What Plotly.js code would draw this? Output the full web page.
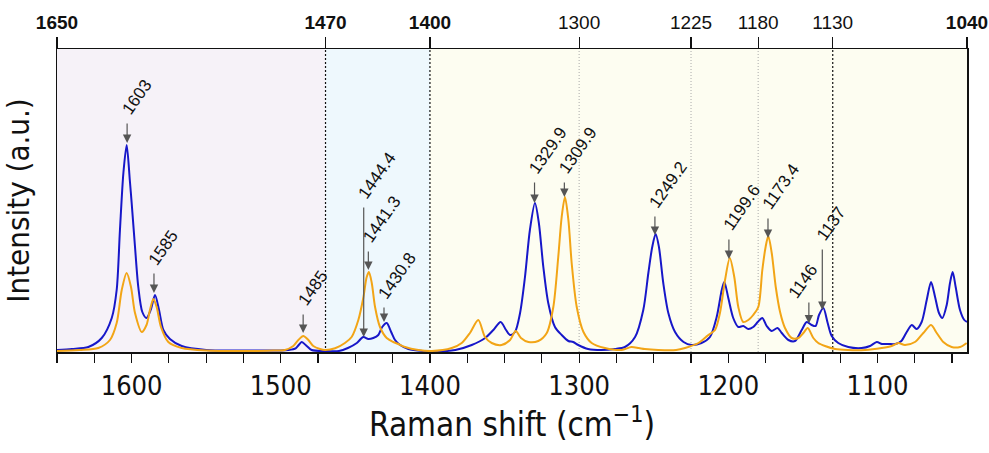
<!DOCTYPE html>
<html>
<head>
<meta charset="utf-8">
<script src="https://cdn.plot.ly/plotly-3.0.1.min.js"></script>
<style>html,body{margin:0;padding:0;background:#fff;}#chart{width:989px;height:453px;}</style>
</head>
<body>
<div id="chart"></div>
<script>
// ---- data (wavenumber cm^-1, intensity a.u.) ----
const blueX = [1650,1640,1629,1620,1613.3,1610,1607.8,1605.5,1603.3,1601.2,1600,1597.7,1595.5,1592.8,1590,1587.2,1584.3,1581.6,1578.7,1574.3,1566.4,1550,1524,1500,1495,1490,1488,1486,1482.6,1479.3,1470,1461,1455,1449,1444.7,1441.3,1438,1434.6,1432,1429,1426,1423.4,1420,1414.5,1405,1396,1383,1372,1363,1357.5,1352.6,1349,1346.3,1343,1339.6,1336.3,1333,1329.6,1327,1324,1320.7,1316.2,1311.7,1307.2,1304,1300.6,1294,1285,1276,1269.3,1262.5,1257,1253.6,1251,1248.7,1246.5,1243.6,1240.2,1235.7,1230,1224.6,1218,1212.3,1207.8,1204.4,1202.7,1200,1196.7,1193.3,1190,1186.6,1183.3,1180.3,1177.2,1174.3,1171,1167,1164.2,1159.7,1155.3,1150.8,1147.4,1144.1,1141.5,1139.2,1136.3,1133.4,1130.7,1126.3,1119.6,1110.6,1105,1100.5,1097,1092.7,1088,1084,1080.4,1077,1073.8,1070.4,1067,1064.1,1061.4,1058.8,1056.5,1053.6,1051.4,1049.6,1047.6,1044.7,1041.8,1040];
const blueY = [2,3,5,14,34,62,122,179,207,172,150,105,65,40,34,42,57,42,22,13,6,2,1.5,1.5,2,3.7,7,10,6,2,1,1,4,9,15,13,14,17,25,29,20,12,7,3,1,0.5,2,7,14,22,30,22,17,20,39,75,122,149,129,85,49,25,17,11,10,7,3,2,3,5,15,42,79,105,118,105,69,39,20,10,7,9,15,35,62,70,54,34,25,26,23,25,30,34,26,21,24,19,12,11,22,30,27,26,37,44,29,16,9,5,4,6,10,8,8,8,11,20,27,23,30,52,70,55,39,34,47,69,80,65,42,32,30];

const orangeX = [1650,1635,1622.3,1614.5,1610,1606.6,1603.3,1600.4,1597.7,1593.2,1590,1587.7,1585.4,1583.2,1580.3,1575.4,1566.4,1550,1520,1505,1497.2,1491.6,1488.2,1484.9,1481.5,1478.2,1473.7,1470.4,1463.6,1457,1452.5,1448,1444.7,1442.4,1440.9,1439,1436.8,1433.5,1429,1424.6,1421.2,1416.7,1407.8,1398.8,1385.4,1378.7,1373.2,1367.6,1363.1,1358.6,1352,1346.3,1342.5,1339,1334,1327.4,1321.7,1317.3,1314,1311.7,1309.5,1307.2,1305,1301.6,1297.1,1291.6,1282.7,1271.5,1265,1260,1256,1247,1235,1229,1220,1215,1213.4,1208.9,1205.6,1202.2,1199,1196,1193.3,1190,1186.6,1183.3,1179.9,1177.2,1175,1173.2,1170.9,1168.2,1165.3,1162,1157.5,1153,1149.7,1146.8,1143,1139.7,1135.2,1128.4,1120,1108.4,1097.2,1090.5,1086,1081.6,1074.9,1069.3,1064.1,1060.3,1055.9,1050.3,1044.7,1040.2];
const orangeY = [1,2,4,12,29,62,79,65,39,20,27,42,53,45,25,10,4,1.5,1,1.5,2,6,12,16,12,6,3,2,3.7,9,15,32,54,75,80,69,45,25,14,10,8,5,2,1,4,9,19,32,15,9,7,12,21,14,10,11,19,45,95,135,155,132,89,45,20,9,4,2,5,4,3,2,2,4,9,15,17,22,39,72,94,75,45,30,32,37,45,82,105,116,99,65,40,24,14,14,19,24,14,9,6,3,2,2,4,6,9,7,10,19,27,19,10,5,5,9];

// peak labels: wavenumber, arrow tip and arrow tail intensity
const peakLabels = ["1603","1585","1485","1444.4","1441.3","1430.8","1329.9","1309.9","1249.2","1199.6","1173.4","1146","1137"];
const peakX    = [1603,1585,1485,1444.4,1441.3,1430.8,1329.9,1309.9,1249.2,1199.6,1173.4,1146,1137];
const peakTip  = [209,59,19,15,82,30,149,155,117,93,114,28.5,42];
const peakTail = [230,80,39,146,102,46,171,171,137,114,135,51,104];

// axes ticks
const bottomTickVals = [1650,1625,1600,1575,1550,1525,1500,1475,1450,1425,1400,1375,1350,1325,1300,1275,1250,1225,1200,1175,1150,1125,1100,1075,1050];
const bottomTickText = bottomTickVals.map(v => (v % 100 === 0 ? String(v) : ""));
const topTickVals = [1650,1470,1400,1300,1225,1180,1130,1040];
const topTickBold = [true,true,true,false,false,false,false,true];
const topTickText = topTickVals.map((v,i) => topTickBold[i] ? "<b>"+v+"</b>" : String(v));

// region boundaries and separator lines
const regionEdges = [1650,1470,1400,1040];
const regionColors = ["#f6f2f8","#eef8fd","#fdfdf1"];
const dashedLines = [1470,1400,1130];
const dottedLines = [1300,1225,1180];

const FONT = "'Liberation Sans Narrow', 'DejaVu Sans Condensed', 'Liberation Sans', Arial, sans-serif";
const FONT2 = "'Liberation Sans', Arial, sans-serif";

const traces = [
  {x: blueX, y: blueY, mode: 'lines', line: {color: '#1717c9', width: 2, shape: 'spline', smoothing: 0.8}, showlegend: false, hoverinfo: 'skip'},
  {x: orangeX, y: orangeY, mode: 'lines', line: {color: '#f2a516', width: 2, shape: 'spline', smoothing: 0.8}, showlegend: false, hoverinfo: 'skip'},
  {x: [regionEdges[0], regionEdges[3]], y: [null, null], xaxis: 'x2', mode: 'lines', showlegend: false, hoverinfo: 'skip'}
];

const shapes = [];
for (let i = 0; i < regionColors.length; i++) {
  shapes.push({type: 'rect', xref: 'x', yref: 'paper', x0: regionEdges[i], x1: regionEdges[i+1], y0: 0, y1: 1,
    fillcolor: regionColors[i], line: {width: 0}, layer: 'below'});
}
dashedLines.forEach(v => shapes.push({type: 'line', xref: 'x', yref: 'paper', x0: v, x1: v, y0: 0, y1: 1,
  line: {color: '#111', width: 1.2, dash: '2px,2px'}, layer: 'below'}));
dottedLines.forEach(v => shapes.push({type: 'line', xref: 'x', yref: 'paper', x0: v, x1: v, y0: 0, y1: 1,
  line: {color: '#aaa', width: 1, dash: '1px,2px'}, layer: 'below'}));

const annotations = [];
peakX.forEach((px, i) => {
  const special = (peakLabels[i] === "1146");  // this label sits left of its arrow in the reference
  annotations.push({x: px, y: peakTip[i], ax: px, ay: peakTail[i], xref: 'x', yref: 'y', axref: 'x', ayref: 'y',
    text: '', showarrow: true, arrowhead: 2, arrowsize: 1.4, arrowwidth: 1.2, arrowcolor: '#555'});
  annotations.push({x: px, y: peakTail[i], xref: 'x', yref: 'y', text: peakLabels[i], showarrow: false,
    textangle: -55, xanchor: 'left', yanchor: 'bottom', xshift: special ? -27 : -12, yshift: special ? -4 : 1,
    font: {family: FONT2, size: 17, color: '#111'}});
});

const layout = {
  width: 989, height: 453,
  margin: {l: 57, r: 22, t: 49, b: 101},
  paper_bgcolor: '#ffffff', plot_bgcolor: '#ffffff',
  font: {family: FONT2, color: '#111'},
  xaxis: {range: [1650, 1040], tickmode: 'array', tickvals: bottomTickVals, ticktext: bottomTickText,
    ticks: 'outside', ticklen: 9, tickwidth: 1.2, tickcolor: '#111', showline: true, linecolor: '#111', linewidth: 1.5,
    showgrid: false, zeroline: false, tickfont: {family: FONT, size: 27, color: '#111'},
    title: {text: 'Raman shift (cm<sup>−1</sup>)', font: {family: FONT, size: 33, color: '#111'}, standoff: 6}},
  xaxis2: {range: [1650, 1040], overlaying: 'x', side: 'top', anchor: 'y', tickmode: 'array', tickvals: topTickVals, ticktext: topTickText,
    ticks: 'outside', ticklen: 11, tickwidth: 1.2, tickcolor: '#111', showline: true, linecolor: '#111', linewidth: 1.5,
    showgrid: false, zeroline: false, tickfont: {family: FONT2, size: 19, color: '#111'}},
  yaxis: {range: [0, 303], showticklabels: false, ticks: '', showgrid: false, zeroline: false,
    showline: true, mirror: true, linecolor: '#111', linewidth: 1.5,
    title: {text: 'Intensity (a.u.)', font: {family: FONT, size: 31, color: '#111'}}},
  shapes: shapes,
  annotations: annotations,
  showlegend: false
};

Plotly.newPlot('chart', traces, layout, {displayModeBar: false, staticPlot: true});
</script>
</body>
</html>
